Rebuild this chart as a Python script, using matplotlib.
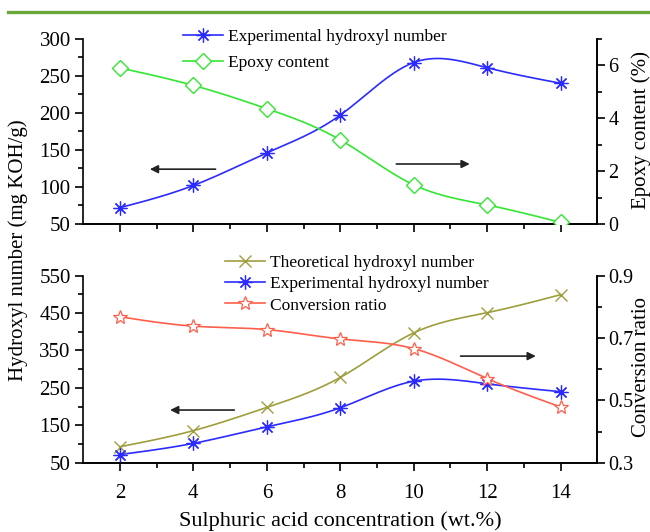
import numpy as np
import matplotlib
matplotlib.use("Agg")
import matplotlib.pyplot as plt
from matplotlib.lines import Line2D

plt.rcParams['font.family'] = ['Liberation Serif', 'DejaVu Serif']
plt.rcParams['mathtext.fontset'] = 'stix'

# data
conc = [2, 4, 6, 8, 10, 12, 14]
exp_oh = [72, 102, 146, 197, 268, 261, 240]
epoxy = [5.90, 5.24, 4.36, 3.18, 1.48, 0.72, 0.06]
theo_oh = [93, 136, 198, 278, 397, 451, 499]
conv = [0.768, 0.738, 0.727, 0.697, 0.666, 0.570, 0.479]

BLUE = '#2b2bff'
GREEN = '#33e633'
OLIVE = '#9e9e3c'
RED = '#ff5f4a'


def smooth(x, y, n=300):
    # natural cubic spline through the points (like the Origin spline line)
    x = np.asarray(x, float)
    y = np.asarray(y, float)
    k = len(x)
    h = np.diff(x)
    A = np.zeros((k, k))
    r = np.zeros(k)
    A[0, 0] = 1
    A[-1, -1] = 1
    for i in range(1, k - 1):
        A[i, i - 1] = h[i - 1]
        A[i, i] = 2 * (h[i - 1] + h[i])
        A[i, i + 1] = h[i]
        r[i] = 6 * ((y[i + 1] - y[i]) / h[i] - (y[i] - y[i - 1]) / h[i - 1])
    M = np.linalg.solve(A, r)
    xs = np.linspace(x[0], x[-1], n)
    idx = np.clip(np.searchsorted(x, xs) - 1, 0, k - 2)
    hi = h[idx]
    t0 = x[idx + 1] - xs
    t1 = xs - x[idx]
    ys = (M[idx] * t0 ** 3 / (6 * hi) + M[idx + 1] * t1 ** 3 / (6 * hi)
          + (y[idx] / hi - M[idx] * hi / 6) * t0
          + (y[idx + 1] / hi - M[idx + 1] * hi / 6) * t1)
    return xs, ys


def series(ax, x, y, color, marker, ms, mew=1.0):
    xs, ys = smooth(x, y)
    ax.plot(xs, ys, color=color, lw=1.2, zorder=2)
    ax.plot(x, y, ls='none', marker=marker, ms=ms, mfc='white', mec=color,
            mew=mew, zorder=3)
    return Line2D([], [], color=color, lw=1.2, marker=marker, ms=ms,
                  mfc='white', mec=color, mew=mew)


def style(ax, pad=3, size=15):
    ax.spines['top'].set_visible(False)
    ax.tick_params(which='major', direction='out', length=6, width=1.2,
                   labelsize=size, pad=pad)
    ax.tick_params(which='minor', direction='out', length=3.5, width=1.2)
    for s in ax.spines.values():
        s.set_linewidth(1.2)


def arrow(ax, x0, x1, y):
    ax.annotate('', xy=(x1, y), xytext=(x0, y),
                arrowprops=dict(arrowstyle='-|>', color='#222222', lw=1.2,
                                mutation_scale=12))


fig = plt.figure(figsize=(6.5, 5.32), dpi=100)
ax1 = fig.add_axes([0.128, 0.579, 0.791, 0.348])
ax2 = fig.add_axes([0.128, 0.130, 0.791, 0.352])

fig.add_artist(Line2D([0.012, 1.0], [0.977, 0.977], color='#6aa83c', lw=2.4))

asterisk = (8, 2, 0)

# top panel
h1 = series(ax1, conc, exp_oh, BLUE, asterisk, 10, 0.9)
ax1r = ax1.twinx()
h2 = series(ax1r, conc, epoxy, GREEN, 'D', 8, 1.0)
ax1.set_xlim(1, 15)
ax1.set_ylim(50, 300)
ax1r.set_ylim(0, 7)
ax1.set_yticks([50, 100, 150, 200, 250, 300])
ax1.set_yticks(np.arange(75, 300, 50), minor=True)
ax1r.set_yticks([0, 2, 4, 6])
ax1r.set_yticks([1, 3, 5, 7], minor=True)
ax1.set_xticks(conc)
ax1.set_xticks([3, 5, 7, 9, 11, 13], minor=True)
ax1.tick_params(labelbottom=False)
style(ax1)
style(ax1r, pad=2, size=14.5)
ax1r.spines['left'].set_visible(False)
arrow(ax1, 4.68, 2.74, 124)
arrow(ax1, 9.45, 11.6, 131)
ax1r.legend([h1, h2], ['Experimental hydroxyl number', 'Epoxy content'],
            loc='upper left', bbox_to_anchor=(0.163, 1.14), frameon=False,
            fontsize=12.5, handlelength=2.3, labelspacing=0.6,
            handletextpad=0.3)

# bottom panel
h3 = series(ax2, conc, theo_oh, OLIVE, 'x', 9, 1.0)
h4 = series(ax2, conc, exp_oh, BLUE, asterisk, 10, 0.9)
ax2r = ax2.twinx()
h5 = series(ax2r, conc, conv, RED, '*', 10, 0.9)
ax2.set_xlim(1, 15)
ax2.set_ylim(50, 550)
ax2r.set_ylim(0.3, 0.9)
ax2.set_yticks([50, 150, 250, 350, 450, 550])
ax2.set_yticks([100, 200, 300, 400, 500], minor=True)
ax2r.set_yticks([0.3, 0.5, 0.7, 0.9])
ax2r.set_yticks([0.4, 0.6, 0.8], minor=True)
ax2r.set_yticklabels(['0.3', '0.5', '0.7', '0.9'])
ax2.set_xticks(conc)
ax2.set_xticks([3, 5, 7, 9, 11, 13], minor=True)
style(ax2)
style(ax2r, pad=2, size=14.5)
ax2.tick_params(axis='x', which='major', pad=9)
ax2r.spines['left'].set_visible(False)
arrow(ax2, 5.19, 3.29, 191)
arrow(ax2, 11.2, 13.4, 335)
ax2r.legend([h3, h4, h5], ['Theoretical hydroxyl number',
                           'Experimental hydroxyl number', 'Conversion ratio'],
            loc='upper left', bbox_to_anchor=(0.245, 1.195), frameon=False,
            fontsize=12.5, handlelength=2.3, labelspacing=0.3,
            handletextpad=0.3)

ax2.set_xlabel('Sulphuric acid concentration (wt.%)', fontsize=16, labelpad=6)
fig.text(0.028, 0.53, 'Hydroxyl number (mg KOH/g)', rotation=90,
         ha='center', va='center', fontsize=15)
fig.text(0.987, 0.756, 'Epoxy content (%)', rotation=90,
         ha='center', va='center', fontsize=15)
fig.text(0.987, 0.31, 'Conversion ratio', rotation=90,
         ha='center', va='center', fontsize=15)

fig.savefig('out.png', dpi=100)
